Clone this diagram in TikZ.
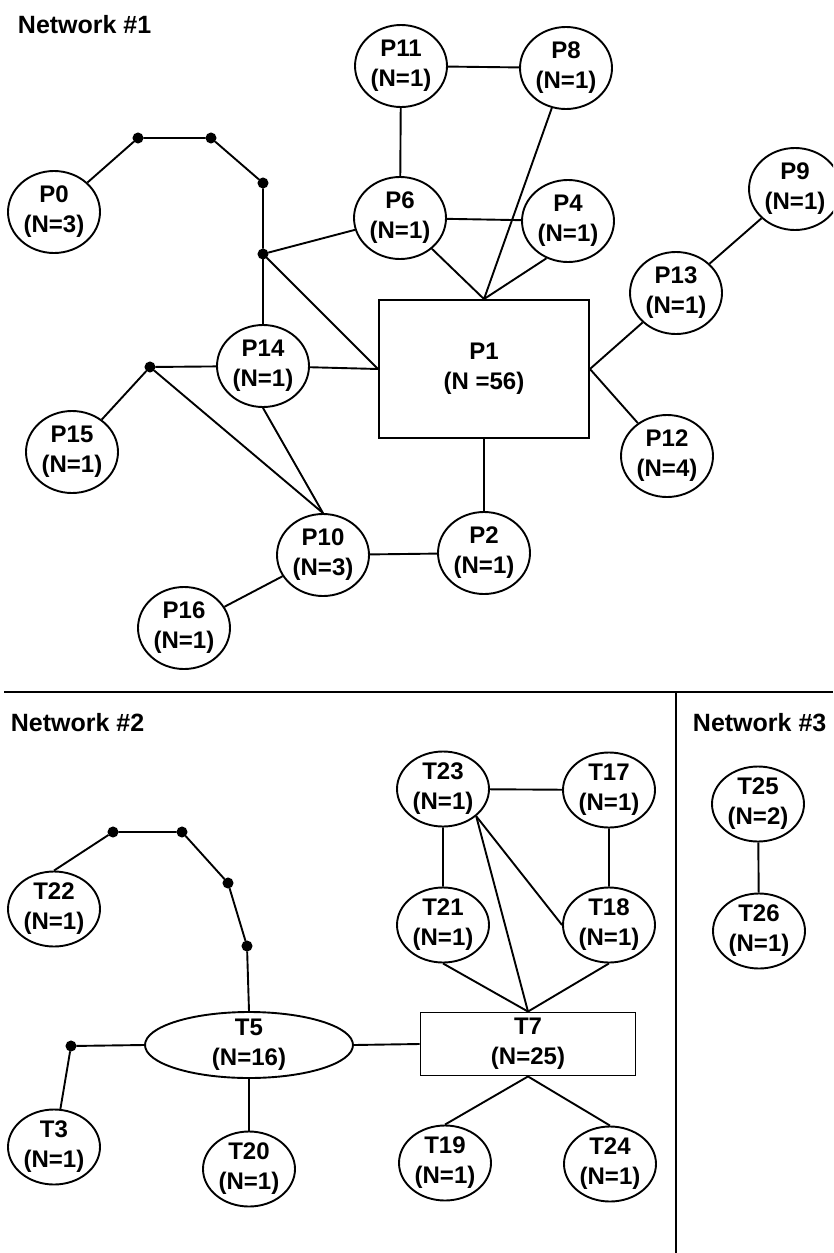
\documentclass[tikz,border=0pt]{standalone}
\usepackage{fontspec}
\setmainfont{Liberation Sans}
\usetikzlibrary{shapes.geometric}

\begin{document}
\begin{tikzpicture}[x=1pt, y=-1pt, line width=1.9pt,
	every node/.style={font=\fontsize{24}{30}\selectfont\bfseries, align=center, inner sep=0pt},
	host/.style={draw, ellipse, minimum width=92pt, minimum height=82pt},
	thost/.style={host, minimum height=75pt, inner sep=-1pt},
	hub/.style={draw, rectangle},
	waypt/.style={draw, circle, fill, minimum size=9pt},
	netlabel/.style={anchor=base west, font=\fontsize{25}{30}\selectfont\bfseries}]
	\clip (0,0) rectangle (833,1253);

	\node[netlabel] (net1) at (17,33) {Network \#1};
	\node[netlabel] (net2) at (10,731) {Network \#2};
	\node[netlabel] (net3) at (692,731) {Network \#3};
	\draw (4,692) -- (833,692);
	\draw (676,692) -- (676,1253);

	\node[host] (P11) at (401,66) {P11\\(N=1)};
	\node[host] (P8) at (566,68) {P8\\(N=1)};
	\node[host] (P6) at (400,218) {P6\\(N=1)};
	\node[host] (P4) at (568,221) {P4\\(N=1)};
	\node[host] (P9) at (795,189) {P9\\(N=1)};
	\node[host] (P13) at (676,293) {P13\\(N=1)};
	\node[host] (P0) at (54,212) {P0\\(N=3)};
	\node[hub, minimum width=210pt, minimum height=138pt] (P1) at (484,369) {P1\\(N =56)};
	\node[host] (P14) at (263,366) {P14\\(N=1)};
	\node[host] (P15) at (72,452) {P15\\(N=1)};
	\node[host] (P10) at (323,555) {P10\\(N=3)};
	\node[host] (P16) at (184,628) {P16\\(N=1)};
	\node[host] (P2) at (484,553) {P2\\(N=1)};
	\node[host] (P12) at (667,456) {P12\\(N=4)};
	\node[waypt] (a1) at (138,138) {};
	\node[waypt] (a2) at (211,138) {};
	\node[waypt] (a3) at (263,183) {};
	\node[waypt] (a4) at (263,254) {};
	\node[waypt] (a5) at (150,367) {};

	\draw (P0) -- (a1) -- (a2) -- (a3) -- (a4) -- (P6);
	\draw (a4) -- (P14);
	\draw (a4) -- (P1.west);
	\draw (P11) -- (P8);
	\draw (P11) -- (P6) -- (P4);
	\draw (P6) -- (P1.north) -- (P8);
	\draw (P4.240) -- (P1.north);
	\draw (P9) -- (P13) -- (P1.east) -- (P12);
	\draw (P14) -- (P1.west);
	\draw (P1.south) -- (P2.north);
	\draw (P2) -- (P10) -- (P16);
	\draw (P15) -- (a5) -- (P14);
	\draw (a5) -- (P10.north);
	\draw (P14.south) -- (P10.north);

	\node[thost] (T23) at (443,789) {T23\\(N=1)};
	\node[thost] (T17) at (609,790) {T17\\(N=1)};
	\node[thost] (T21) at (443,925) {T21\\(N=1)};
	\node[thost] (T18) at (609,925) {T18\\(N=1)};
	\node[hub, minimum width=215pt, minimum height=63pt] (T7) at (528,1044) {T7\\(N=25)};
	\node[thost] (T19) at (445,1163) {T19\\(N=1)};
	\node[thost] (T24) at (610,1164) {T24\\(N=1)};
	\node[thost] (T25) at (758,804) {T25\\(N=2)};
	\node[thost] (T26) at (759,931) {T26\\(N=1)};
	\node[draw, ellipse, minimum width=208pt, minimum height=66pt, inner sep=-4pt] (T5) at (249,1045) {T5\\(N=16)};
	\node[thost] (T22) at (54,909) {T22\\(N=1)};
	\node[thost] (T3) at (54,1147) {T3\\(N=1)};
	\node[thost] (T20) at (249,1169) {T20\\(N=1)};
	\node[waypt] (b1) at (113,832) {};
	\node[waypt] (b2) at (182,832) {};
	\node[waypt] (b3) at (228,883) {};
	\node[waypt] (b4) at (247,946) {};
	\node[waypt] (b5) at (71,1046) {};

	\draw (T22.north) -- (b1) -- (b2) -- (b3) -- (b4) -- (T5.north);
	\draw (T3) -- (b5) -- (T5.west);
	\draw (T5.east) -- (T7.west);
	\draw (T5.south) -- (T20.north);
	\draw (T21) -- (T23) -- (T17) -- (T18);
	\draw (T23.south east) -- (T7.north);
	\draw (T23.south east) -- (T18.west);
	\draw (T21.south) -- (T7.north) -- (T18.south);
	\draw (T19.north) -- (T7.south) -- (T24.north);
	\draw (T25) -- (T26);
\end{tikzpicture}
\end{document}
